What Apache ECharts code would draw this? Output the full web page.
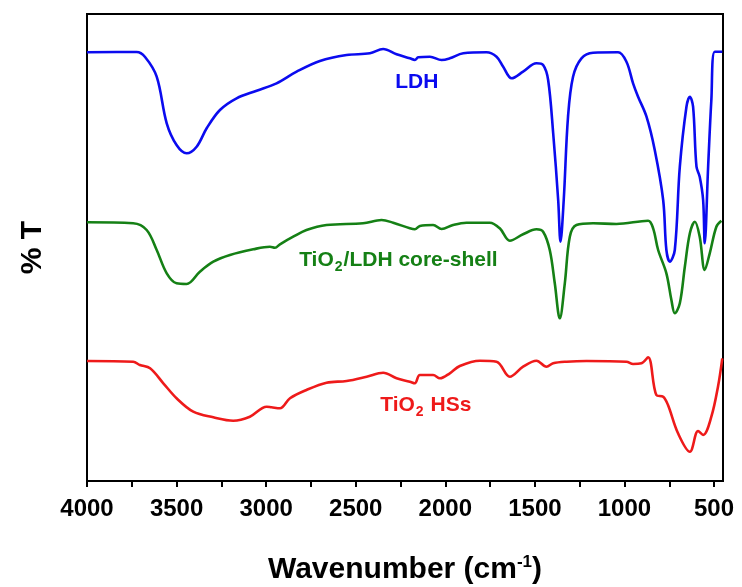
<!DOCTYPE html>
<html>
<head>
<meta charset="utf-8">
<script src="https://cdn.jsdelivr.net/npm/echarts@6/dist/echarts.min.js"></script>
<style>
  html, body { margin: 0; padding: 0; background: #fff; }
  #chart { width: 742px; height: 587px; }
</style>
</head>
<body>
<div id="chart"></div>
<script>
// wavenumber (cm-1) and transmittance (arbitrary, offset)
const ldhWn = [4000, 3723, 3676, 3611, 3555, 3500, 3444, 3388, 3332, 3258, 3165, 3053, 2942, 2830, 2700, 2551, 2421, 2347, 2272, 2198, 2170, 2151, 2086, 2021, 1975, 1900, 1770, 1714, 1677, 1630, 1566, 1491, 1454, 1426, 1398, 1370, 1357, 1339, 1315, 1287, 1240, 1175, 1036, 989, 952, 924, 877, 831, 784, 766, 747, 719, 691, 654, 635, 617, 598, 580, 561, 552, 533, 515, 496, 454];
const ldhT = [428.7, 429, 424, 404.3, 357.7, 336, 327.7, 334.3, 352.7, 371, 382.7, 390.3, 397.7, 409.3, 420, 426, 427.7, 432, 426.7, 422.7, 421, 423.7, 424.3, 421, 422.7, 427.7, 428.7, 424.3, 414.3, 402.7, 409.3, 417.7, 416, 401, 348, 281, 239.3, 281, 364.3, 404.3, 422.7, 428.3, 428.7, 419.3, 397.7, 384.3, 364.3, 331, 281, 231, 219.3, 231, 314.3, 374.3, 384.3, 374.3, 314.3, 304.3, 281, 237.7, 314.3, 381, 429.3, 429.3];

const coreWn = [4000, 3742, 3667, 3611, 3555, 3500, 3444, 3370, 3295, 3202, 3072, 2979, 2951, 2923, 2849, 2775, 2663, 2459, 2356, 2291, 2198, 2170, 2142, 2068, 2021, 1957, 1882, 1752, 1696, 1640, 1566, 1491, 1454, 1417, 1389, 1361, 1333, 1305, 1268, 1175, 1045, 868, 840, 812, 766, 738, 719, 691, 663, 635, 607, 580, 552, 524, 487, 459];
const coreT = [258.7, 257.7, 251, 231, 207.7, 197.7, 197, 209.3, 219.3, 226, 231.7, 234.3, 233.3, 236.7, 244.3, 251, 256, 257.7, 261, 258.3, 252.7, 251.7, 255, 256, 252, 256, 258.3, 258.3, 252.7, 240.3, 246.7, 251.7, 249.3, 231, 197.7, 162.7, 197.7, 244.3, 256, 257.7, 257, 260.3, 252.7, 231, 207.7, 181, 167.7, 177.7, 214.3, 247.7, 259.3, 244.3, 211, 227.7, 254.3, 260.3];

const hssWn = [4000, 3742, 3705, 3648, 3574, 3500, 3407, 3295, 3184, 3091, 2997, 2970, 2923, 2867, 2775, 2663, 2551, 2439, 2347, 2272, 2198, 2170, 2142, 2068, 2030, 1975, 1919, 1807, 1714, 1640, 1566, 1491, 1435, 1398, 1323, 1212, 989, 952, 905, 868, 822, 784, 757, 701, 635, 589, 561, 515, 478, 454];
const hssT = [120, 119.3, 116, 112.7, 97.7, 82.7, 69.3, 63.7, 60.3, 64.3, 74.3, 73.7, 72.7, 82.7, 91, 98.3, 100, 104.3, 108.3, 102.7, 99.3, 97.7, 106, 106, 102.7, 107.7, 115, 120.3, 119.3, 104.3, 114.3, 120.3, 114.3, 117.7, 119.3, 120, 119.3, 117, 117.7, 123.7, 86, 84.3, 76, 47.7, 29.3, 50, 46, 64.3, 94.3, 122.7];

const xTicks = [4000, 3750, 3500, 3250, 3000, 2750, 2500, 2250, 2000, 1750, 1500, 1250, 1000, 750, 500];
const xLabels = [4000, 3500, 3000, 2500, 2000, 1500, 1000, 500];

// curve labels: [wavenumber, value]
const ldhLabelAt = [2159, 399];
const coreLabelAt = [2262, 221];
const hssLabelAt = [2109, 76];

const zip = (xs, ys) => xs.map((x, i) => [x, ys[i]]);

const chart = echarts.init(document.getElementById('chart'));
const font = 'Arial, "Liberation Sans", sans-serif';

function spectrum(name, color, xs, ys, labelAt, labelText) {
  return {
    name: name,
    type: 'line',
    data: zip(xs, ys),
    showSymbol: false,
    smooth: 0.35,
    lineStyle: { color: color, width: 2.6 },
    itemStyle: { color: color },
    animation: false,
    markPoint: {
      symbol: 'circle',
      symbolSize: 1,
      itemStyle: { color: 'transparent' },
      label: {
        show: true,
        position: 'inside',
        formatter: labelText,
        color: color,
        fontFamily: font,
        fontWeight: 'bold',
        fontSize: 21,
        rich: {
          t: { color: color, fontFamily: font, fontWeight: 'bold', fontSize: 21 },
          s: { color: color, fontFamily: font, fontWeight: 'bold', fontSize: 14, padding: [14, 1, 0, 1] }
        }
      },
      data: [{ coord: labelAt }]
    }
  };
}

chart.setOption({
  backgroundColor: '#fff',
  grid: {
    left: 87, right: 19, top: 14, bottom: 106,
    containLabel: false,
    outerBoundsMode: 'none',
    show: true, borderColor: '#000', borderWidth: 2
  },
  xAxis: {
    type: 'value',
    inverse: true,
    min: 450,
    max: 4000,
    name: 'Wavenumber (cm{sup|-1})',
    nameLocation: 'middle',
    nameGap: 73,
    nameTextStyle: {
      fontFamily: font, fontWeight: 'bold', fontSize: 30, color: '#000',
      rich: { sup: { fontFamily: font, fontWeight: 'bold', fontSize: 17, color: '#000', padding: [0, 0, 14, 0] } }
    },
    axisLine: { show: true, lineStyle: { color: '#000', width: 2 } },
    axisTick: { show: true, inside: false, length: 6, lineStyle: { color: '#000', width: 2 }, customValues: xTicks },
    axisLabel: {
      customValues: xLabels,
      formatter: v => String(v),
      margin: 16,
      fontFamily: font, fontWeight: 'bold', fontSize: 24, color: '#000'
    },
    splitLine: { show: false }
  },
  yAxis: {
    type: 'value',
    min: 0,
    max: 467,
    name: '% T',
    nameLocation: 'middle',
    nameGap: 39,
    nameTextStyle: { fontFamily: font, fontWeight: 'bold', fontSize: 30, color: '#000' },
    axisLine: { show: true, lineStyle: { color: '#000', width: 2 } },
    axisTick: { show: false },
    axisLabel: { show: false },
    splitLine: { show: false }
  },
  series: [
    spectrum('LDH', '#0b0bef', ldhWn, ldhT, ldhLabelAt, '{t|LDH}'),
    spectrum('TiO2/LDH core-shell', '#158015', coreWn, coreT, coreLabelAt, '{t|TiO}{s|2}{t|/LDH core-shell}'),
    spectrum('TiO2 HSs', '#ee1a1a', hssWn, hssT, hssLabelAt, '{t|TiO}{s|2}{t| HSs}')
  ]
});
</script>
</body>
</html>
